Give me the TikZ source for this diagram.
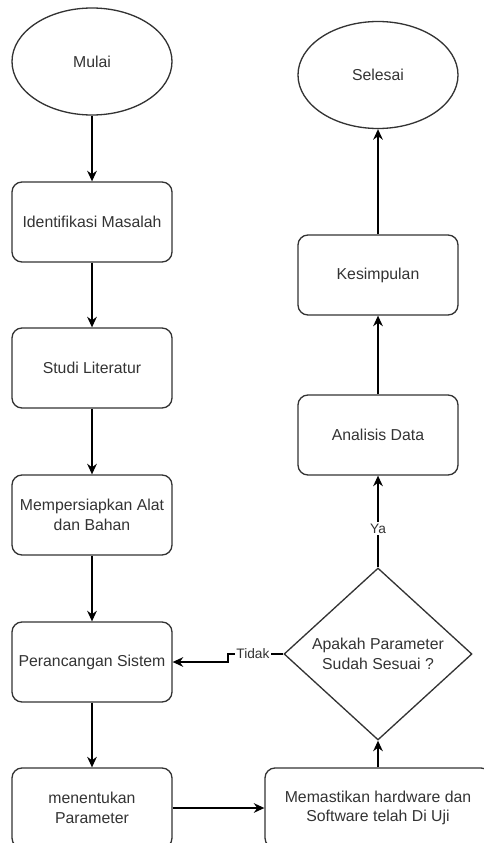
\documentclass[tikz,border=0pt]{standalone}
\usepackage{fontspec}
\setmainfont{Liberation Sans}
\usepackage{tikz}
\usetikzlibrary{shapes.geometric, arrows.meta}

\begin{document}
\begin{tikzpicture}[
    proses/.style={rectangle, rounded corners=0.2cm, draw=black!80, line width=0.75pt,
      minimum width=3.2cm, minimum height=1.6cm, align=center, text=black!80,
      font=\fontsize{9}{11}\selectfont},
    terminal/.style={ellipse, draw=black!80, line width=0.75pt,
      minimum width=3.2cm, minimum height=2.14cm, text=black!80,
      font=\fontsize{9}{11}\selectfont},
    keputusan/.style={diamond, draw=black!80, line width=0.75pt, inner sep=0pt,
      minimum width=3.76cm, minimum height=3.44cm, align=center, text=black!80,
      font=\fontsize{9}{11}\selectfont},
    panah/.style={-{Stealth[length=6pt, width=5.5pt]}, line width=0.75pt, draw=black},
    ket/.style={fill=white, inner sep=1pt, text=black!80, font=\fontsize{7.8}{9}\selectfont}
  ]
      \useasboundingbox (0,0) rectangle (9.66,-16.86);

      % kolom kiri
      \node[terminal] (mulai) at (1.84,-1.23) {Mulai};
      \node[proses] (identifikasi) at (1.84,-4.44) {Identifikasi Masalah};
      \node[proses] (studi) at (1.84,-7.36) {Studi Literatur};
      \node[proses] (persiapan) at (1.84,-10.30) {Mempersiapkan Alat\\dan Bahan};
      \node[proses] (perancangan) at (1.84,-13.24) {Perancangan Sistem};
      \node[proses] (parameter) at (1.84,-16.16) {menentukan\\Parameter};

      % kolom kanan
      \node[proses, minimum width=4.52cm] (pengujian) at (7.56,-16.16) {Memastikan hardware dan\\Software telah Di Uji};
      \node[keputusan] (sesuai) at (7.56,-13.08) {Apakah Parameter\\Sudah Sesuai ?};
      \node[proses] (analisis) at (7.56,-8.70) {Analisis Data};
      \node[proses] (kesimpulan) at (7.56,-5.50) {Kesimpulan};
      \node[terminal] (selesai) at (7.56,-1.50) {Selesai};

      \coordinate (belok) at (4.56,-13.08);

      \draw[panah] (mulai) -- (identifikasi);
      \draw[panah] (identifikasi) -- (studi);
      \draw[panah] (studi) -- (persiapan);
      \draw[panah] (persiapan) -- (perancangan);
      \draw[panah] (perancangan) -- (parameter);
      \draw[panah] (parameter) -- (pengujian);
      \draw[panah] (pengujian) -- (sesuai);
      \draw[panah] (sesuai) -- node[ket, pos=0.42] {Ya} (analisis);
      \draw[panah] (analisis) -- (kesimpulan);
      \draw[panah] (kesimpulan) -- (selesai);
      \draw[panah] (sesuai.west) -- node[ket, pos=0.55] {Tidak} (belok) |- (perancangan.east);
\end{tikzpicture}
\end{document}
